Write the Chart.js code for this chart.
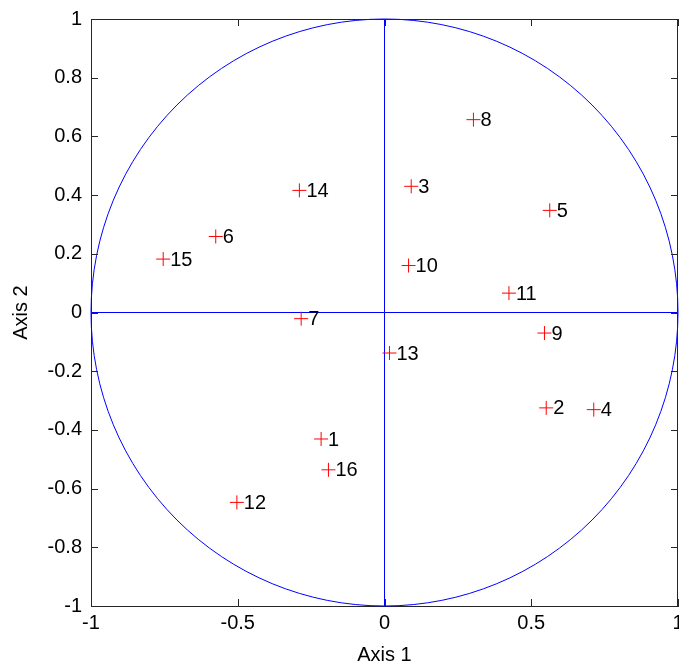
<!DOCTYPE html>
<html>
<head>
<meta charset="utf-8">
<script src="https://cdn.jsdelivr.net/npm/chart.js@4/dist/chart.umd.min.js"></script>
<style>
  html, body { margin: 0; padding: 0; background: #fff; }
  canvas { display: block; }
</style>
</head>
<body>
<canvas id="chart" width="679" height="666"></canvas>
<script>
// point labels and their coordinates on the two axes
const pointLabels = ['1', '2', '3', '4', '5', '6', '7', '8', '9', '10', '11', '12', '13', '14', '15', '16'];
const axis1 = [-0.216, 0.551, 0.091, 0.713, 0.563, -0.575, -0.284, 0.303, 0.545, 0.082, 0.424, -0.503, 0.017, -0.290, -0.754, -0.191];
const axis2 = [-0.431, -0.325, 0.430, -0.331, 0.348, 0.259, -0.021, 0.657, -0.070, 0.160, 0.066, -0.647, -0.138, 0.416, 0.182, -0.536];

const xTicks = [-1, -0.5, 0, 0.5, 1];
const yTicks = [-1, -0.8, -0.6, -0.4, -0.2, 0, 0.2, 0.4, 0.6, 0.8, 1];

Chart.defaults.font.family = '"Liberation Sans", Arial, sans-serif';
Chart.defaults.color = '#000';

const fmt = v => String(Math.round(v * 10) / 10);

// unit circle, zero lines, box and inward ticks like the matlab plot
const decorations = {
  id: 'decorations',
  beforeDatasetsDraw(chart) {
    const { ctx, chartArea: a, scales: { x, y } } = chart;
    const cx = x.getPixelForValue(0), cy = y.getPixelForValue(0);
    const rx = x.getPixelForValue(1) - cx, ry = cy - y.getPixelForValue(1);
    ctx.save();
    ctx.strokeStyle = '#0000ff';
    ctx.lineWidth = 1;
    ctx.beginPath();
    ctx.ellipse(cx, cy, rx, ry, 0, 0, Math.PI * 2);
    ctx.stroke();
    ctx.beginPath();
    ctx.moveTo(a.left, cy); ctx.lineTo(a.right, cy);
    ctx.moveTo(cx, a.top); ctx.lineTo(cx, a.bottom);
    ctx.stroke();

    ctx.strokeStyle = '#262626';
    ctx.beginPath();
    ctx.moveTo(a.left, a.top + 0.5); ctx.lineTo(a.right, a.top + 0.5);
    ctx.moveTo(a.right - 0.5, a.top); ctx.lineTo(a.right - 0.5, a.bottom);
    const tl = 7;
    xTicks.forEach(v => {
      const px = Math.round(x.getPixelForValue(v)) + 0.5;
      ctx.moveTo(px, a.bottom); ctx.lineTo(px, a.bottom - tl);
      ctx.moveTo(px, a.top); ctx.lineTo(px, a.top + tl);
    });
    yTicks.forEach(v => {
      const py = Math.round(y.getPixelForValue(v)) + 0.5;
      ctx.moveTo(a.left, py); ctx.lineTo(a.left + tl, py);
      ctx.moveTo(a.right, py); ctx.lineTo(a.right - tl, py);
    });
    ctx.stroke();
    ctx.restore();
  },
  afterDatasetsDraw(chart) {
    const { ctx } = chart;
    const meta = chart.getDatasetMeta(0);
    ctx.save();
    ctx.font = '20px "Liberation Sans", Arial, sans-serif';
    ctx.fillStyle = '#000';
    ctx.textAlign = 'left';
    ctx.textBaseline = 'middle';
    meta.data.forEach((pt, i) => {
      ctx.fillText(pointLabels[i], pt.x + 7, pt.y + 1);
    });
    ctx.restore();
  }
};

new Chart(document.getElementById('chart'), {
  type: 'scatter',
  data: {
    datasets: [{
      data: axis1.map((v, i) => ({ x: v, y: axis2[i] })),
      pointStyle: 'cross',
      pointRadius: 7,
      pointHoverRadius: 7,
      borderColor: '#ff0000',
      backgroundColor: '#ff0000',
      borderWidth: 1,
    }]
  },
  options: {
    responsive: false,
    animation: false,
    layout: { autoPadding: false, padding: { top: 19, right: 1, left: 0, bottom: 0 } },
    plugins: { legend: { display: false }, tooltip: { enabled: false } },
    scales: {
      x: {
        type: 'linear',
        min: -1, max: 1,
        afterBuildTicks: s => { s.ticks = xTicks.map(v => ({ value: v })); },
        afterFit: s => { s.height = 60; s.paddingLeft = 0; s.paddingRight = 0; },
        grid: { drawOnChartArea: false, drawTicks: false },
        border: { color: '#262626', width: 1 },
        ticks: { padding: 5, font: { size: 20 }, maxRotation: 0, callback: fmt },
        title: { display: true, text: 'Axis 1', font: { size: 20, lineHeight: 1.1 }, padding: { top: 0, bottom: 0 } }
      },
      y: {
        type: 'linear',
        min: -1, max: 1,
        afterBuildTicks: s => { s.ticks = yTicks.map(v => ({ value: v })); },
        afterFit: s => { s.width = 91; s.paddingTop = 0; s.paddingBottom = 0; },
        grid: { drawOnChartArea: false, drawTicks: false },
        border: { color: '#262626', width: 1 },
        ticks: { padding: 9, font: { size: 20 }, callback: fmt },
        title: { display: true, text: 'Axis 2', font: { size: 20, lineHeight: 1.1 }, padding: { top: 10, bottom: 0 } }
      }
    }
  },
  plugins: [decorations]
});
</script>
</body>
</html>
